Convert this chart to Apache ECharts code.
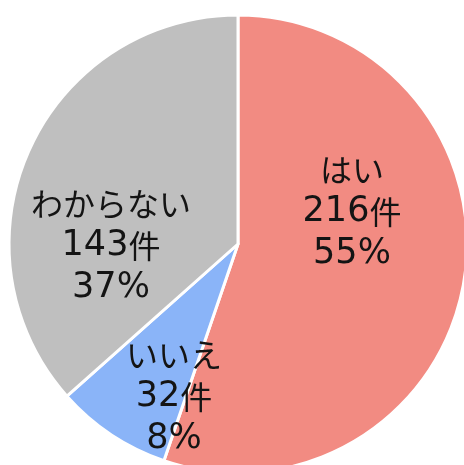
<!DOCTYPE html>
<html>
<head>
<meta charset="utf-8">
<script src="https://cdn.jsdelivr.net/npm/echarts@6/dist/echarts.min.js"></script>
<style>
  html, body { margin: 0; padding: 0; background: #fff; }
  #chart { width: 464px; height: 465px; }
</style>
</head>
<body>
<div id="chart"></div>
<script>
// 回答の内訳
var categories = ['はい', 'いいえ', 'わからない'];
var counts = [216, 32, 143];
var colors = ['#F28B82', '#8AB4F8', '#BFBFBF'];

// ラベルの置き場所 (Excel風に手で合わせる)
var labelPos = [[352, 212], [174, 397], [111, 246]];

var myChart = echarts.init(document.getElementById('chart'));

var pieData = categories.map(function (name, i) {
    return { name: name, value: counts[i], itemStyle: { color: colors[i] } };
});

var jp = '"Noto Sans CJK JP", sans-serif';
var num = '"DejaVu Sans", sans-serif';

var option = {
    animation: false,
    series: [
        {
            type: 'pie',
            center: [238, 244],
            radius: 229,
            startAngle: 90,
            clockwise: true,
            percentPrecision: 0,
            itemStyle: {
                borderColor: '#fff',
                borderWidth: 3
            },
            label: {
                show: true,
                position: 'inside',
                formatter: function (p) {
                    return '{n|' + p.name + '}\n{v|' + p.value + '}{k|件}\n{v|' + p.percent + '%}';
                },
                color: '#141414',
                align: 'center',
                lineHeight: 42,
                rich: {
                    n: { fontFamily: jp, fontSize: 32, lineHeight: 42, color: '#141414' },
                    k: { fontFamily: jp, fontSize: 32, lineHeight: 42, color: '#141414' },
                    v: { fontFamily: num, fontSize: 35, lineHeight: 42, color: '#141414' }
                }
            },
            labelLine: { show: false },
            labelLayout: function (params) {
                var p = labelPos[params.dataIndex];
                return { x: p[0], y: p[1], align: 'center', verticalAlign: 'middle' };
            },
            data: pieData
        }
    ]
};

myChart.setOption(option);
</script>
</body>
</html>
